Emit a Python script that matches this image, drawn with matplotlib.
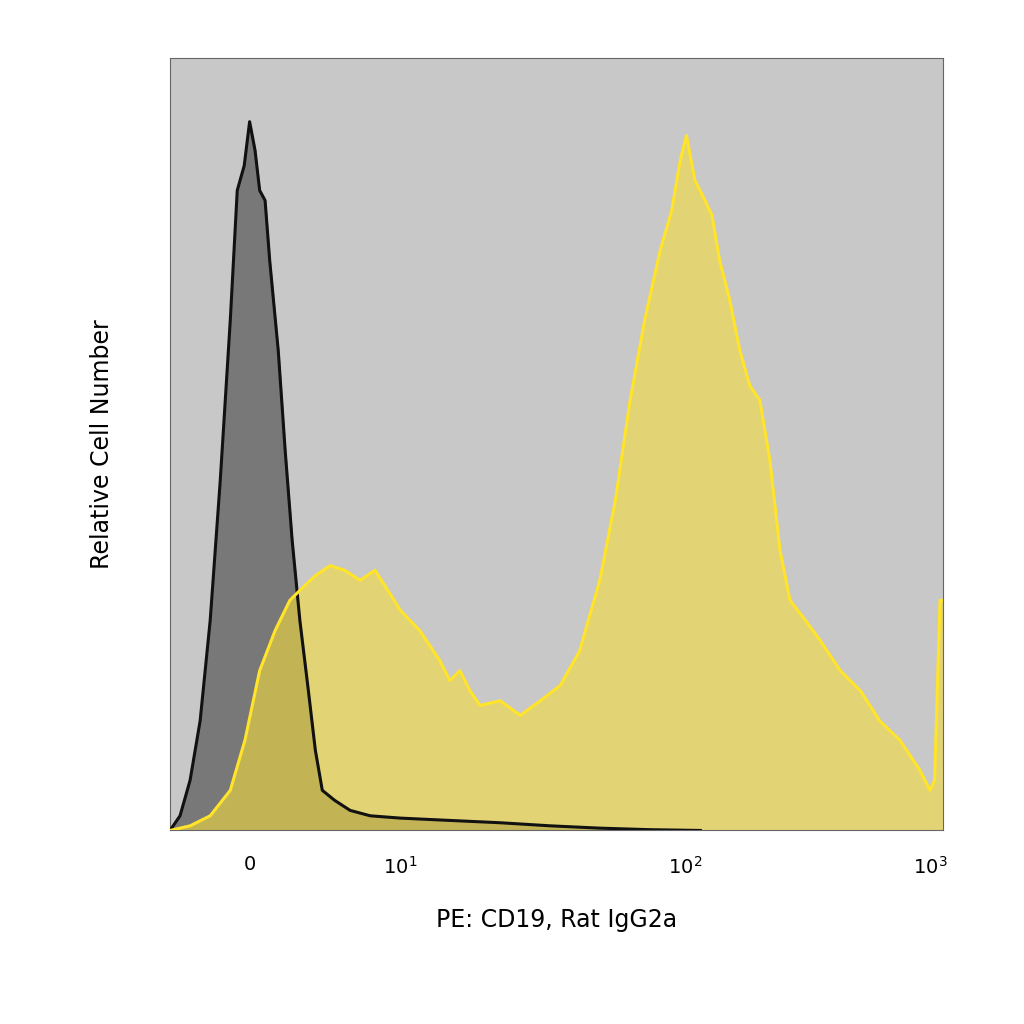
import matplotlib.pyplot as plt

# channel units: 0..100 across the plot width, relative count 0..100
ctrl_x = [0, 1.3, 2.6, 3.9, 5.2, 6.5, 7.8, 8.7, 9.6, 10.3, 11.0, 11.6, 12.3, 12.9,
          14.0, 14.9, 15.8, 16.8, 17.9, 18.8, 19.7, 21.3, 23.3, 25.9, 29.8, 36.2,
          42.7, 49.2, 55.6, 62.1, 68.6]
ctrl_y = [0, 1.9, 6.5, 14.2, 27.2, 45.3, 66.1, 82.9, 86.1, 91.8, 88.1, 82.9, 81.6,
          73.8, 62.2, 49.2, 37.6, 27.2, 18.1, 10.4, 5.2, 3.9, 2.6, 1.9, 1.6, 1.3,
          1.0, 0.6, 0.3, 0.1, 0]

cd19_x = [0, 2.6, 5.2, 7.8, 9.7, 11.6, 13.6, 15.5, 16.8, 18.8, 20.7, 22.6, 24.6,
          26.5, 27.8, 29.8, 32.3, 34.9, 36.2, 37.5, 38.8, 40.1, 42.7, 45.3, 47.9,
          50.5, 53.0, 55.6, 57.6, 59.5, 61.4, 63.4, 64.9, 66.0, 66.8, 67.9, 69.2,
          70.1, 71.1, 72.4, 73.7, 75.0, 76.3, 77.6, 78.9, 80.2, 82.2, 84.1, 86.7,
          89.3, 91.8, 94.4, 97.0, 98.3, 98.9, 99.6, 100]
cd19_y = [0, 0.6, 1.9, 5.2, 11.7, 20.7, 25.9, 29.8, 31.1, 33.0, 34.3, 33.7, 32.4,
          33.7, 31.7, 28.5, 25.9, 22.0, 19.4, 20.7, 18.1, 16.2, 16.8, 14.9, 16.8,
          18.8, 23.3, 32.4, 42.7, 55.6, 66.1, 75.1, 80.3, 86.8, 90.0, 84.2, 81.6,
          79.7, 73.8, 68.7, 62.2, 57.6, 55.7, 47.9, 36.3, 29.8, 27.2, 24.6, 20.7,
          18.1, 14.2, 11.7, 7.8, 5.2, 6.5, 29.8, 29.8]

tick_pos = [10.3, 29.8, 66.6, 98.3]
tick_labels = ['0', '$10^1$', '$10^2$', '$10^3$']

fig = plt.figure(figsize=(10.24, 10.24), dpi=100)
ax = fig.add_axes([0.166, 0.189, 0.755, 0.754])
ax.set_facecolor('#c8c8c8')

ax.fill_between(ctrl_x, ctrl_y, color='#787878', zorder=1)
ax.fill_between(cd19_x, cd19_y, color='#f5dc3c', alpha=0.6, lw=0, zorder=2)
ax.plot(ctrl_x, ctrl_y, color='#111111', lw=2.2, zorder=3)
ax.plot(cd19_x, cd19_y, color='#ffe42a', lw=2.2, zorder=4)

ax.set_xlim(0, 100)
ax.set_ylim(0, 100)
ax.set_xticks(tick_pos)
ax.set_xticklabels(tick_labels, fontsize=14)
ax.tick_params(axis='x', length=0, pad=18)
ax.set_yticks([])
for s in ax.spines.values():
    s.set_color('#666666')
ax.set_xlabel('PE: CD19, Rat IgG2a', fontsize=17, labelpad=22)
ax.set_ylabel('Relative Cell Number', fontsize=17, labelpad=40)

fig.savefig('out.png', dpi=100)
